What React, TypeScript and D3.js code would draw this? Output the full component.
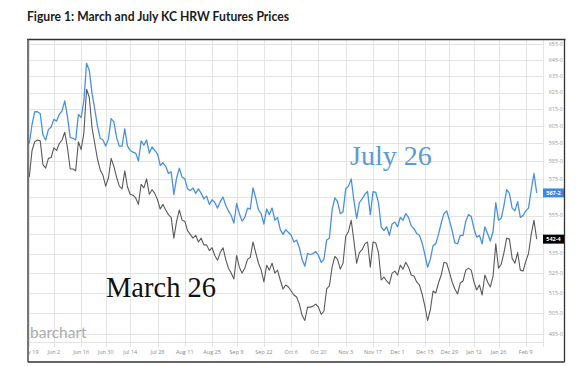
import React from 'react';
import * as d3 from 'd3';

// trading calendar (CME grain holidays inside the window)
const startDate = '2025-05-19';
const holidays = ['2025-05-26', '2025-06-19', '2025-07-04', '2025-09-01', '2025-11-27', '2025-12-25', '2026-01-01', '2026-01-19'];

const tickDates = [
  '2025-05-19', '2025-06-02', '2025-06-16', '2025-06-30', '2025-07-14', '2025-07-28', '2025-08-11',
  '2025-08-25', '2025-09-08', '2025-09-22', '2025-10-06', '2025-10-20', '2025-11-03', '2025-11-17',
  '2025-12-01', '2025-12-15', '2025-12-29', '2026-01-12', '2026-01-26', '2026-02-09',
];

const priceTicks = [495, 505, 515, 525, 535, 545, 555, 565, 575, 585, 595, 605, 615, 625, 635, 645, 655];

// KC HRW July 26 (blue)
const julyPrices = [
  595, 606, 613.5, 613.5, 612.5, 600, 597, 603, 604.5, 609,
  608, 612, 614, 620, 610.5, 598.5, 598, 597, 612, 610,
  620, 643, 638.5, 624.5, 615, 605, 598, 597, 593.5, 597.5,
  609.5, 607.5, 598.5, 593.5, 593.5, 603.5, 593.5, 591, 590, 589.5,
  585, 596.5, 594, 597, 589.5, 593, 591, 589, 582.5, 584,
  582, 578, 579, 566.5, 575.5, 581, 576, 575, 569.5, 568.5,
  570, 567, 569.5, 567, 564, 565.5, 561, 563.5, 562, 559,
  562.5, 565, 560.5, 557.5, 555, 551, 561.5, 556, 552, 554,
  559, 558.5, 570, 564.5, 558, 556, 550.5, 558.5, 555.5, 559,
  552.5, 554, 547.5, 545, 547.5, 546, 544.5, 541, 542, 538,
  532, 528.5, 535, 534.5, 535, 536, 534, 530.5, 532, 542,
  543, 558, 564.5, 562.5, 556, 557, 569.5, 571, 575, 563,
  553.5, 562, 564, 566.5, 568, 555.5, 568, 567.5, 562, 549,
  547, 549, 544.5, 550.5, 551.5, 549, 554, 552.5, 556, 554,
  549.5, 548, 545.5, 544.5, 540.5, 534.5, 528, 532, 539, 540,
  545, 551, 556, 557.5, 552.5, 547, 540.5, 540, 544.5, 544.5,
  552, 555.5, 554.5, 548, 543.5, 544.5, 540, 549, 545.5, 541.5,
  546.5, 562, 552.5, 553.5, 560.5, 569, 567, 559, 557.5, 562.5,
  554, 555, 557.5, 559, 569, 578, 567.25,
];

// KC HRW March 26 (gray)
const marchPrices = [
  576, 591, 596, 597, 596.5, 583, 581, 586.5, 587, 592.5,
  591, 595, 597, 601.5, 592.5, 580.5, 580.5, 579.5, 596, 591.5,
  601, 627, 622, 604, 595, 586, 580, 577, 571, 575.5,
  586.5, 582, 576, 571, 569.5, 579.5, 570.5, 566.5, 566, 564.5,
  561, 572, 570, 575, 566.5, 569, 567, 563.5, 558.5, 561,
  558, 555.5, 554, 543, 552, 558, 552.5, 552, 547, 545,
  543, 544.5, 541, 543, 539.5, 539.5, 536.5, 538, 534, 531.5,
  535.5, 538, 532, 527.5, 525, 522, 534, 528, 525, 527.5,
  532, 533, 541, 535.5, 530, 526.5, 520.5, 529, 526.5, 530,
  525, 526.5, 521.5, 517, 519, 518, 516, 514, 513, 509.5,
  504, 501.5, 508, 508, 508.5, 509.5, 508, 504.5, 506, 517,
  518.5, 528, 533.5, 532, 527, 530, 544, 546.5, 552.5, 541.5,
  530, 535.5, 537, 540, 541, 528, 541, 540.5, 535.5, 521.5,
  523, 521, 519.5, 525, 526, 524, 529, 527, 530.5, 528,
  524, 523.5, 520.5, 519, 514.5, 508.5, 501.5, 506.5, 516, 515,
  520, 524, 530.5, 530, 525.5, 520.5, 517, 514.5, 520, 521,
  526.5, 527.5, 526.5, 520.5, 516.5, 519, 514, 524, 520.5, 518,
  523.5, 540, 527.5, 529.5, 535.5, 543, 542.5, 532.5, 530, 535.5,
  526.5, 526, 531, 535, 545, 552.5, 542.5,
];

const W = 579;
const H = 366;
const frame = { left: 28, top: 39.5, right: 564.5, bottom: 362 };
const plot = { left: 28, right: 543, top: 40, bottom: 342 };

const parse = d3.utcParse('%Y-%m-%d');
const fmtISO = d3.utcFormat('%Y-%m-%d');
const fmtTick = d3.utcFormat('%b %-d');

function tradingDays(start: string, count: number): string[] {
  const out: string[] = [];
  let d = parse(start) as Date;
  while (out.length < count) {
    const wd = d.getUTCDay();
    const iso = fmtISO(d);
    if (wd !== 0 && wd !== 6 && !holidays.includes(iso)) out.push(iso);
    d = d3.utcDay.offset(d, 1);
  }
  return out;
}

// barchart style price: whole-eighths
const fmtPrice = (v: number) => {
  const whole = Math.floor(v);
  const eighths = Math.round((v - whole) * 8);
  return `${whole}-${eighths}`;
};

export default function App() {
  const days = tradingDays(startDate, julyPrices.length);

  const x = d3.scaleLinear().domain([0, days.length - 1]).range([29.3, 536.7]);
  const y = d3.scaleLog().domain([495, 655]).range([334, 44]);

  const line = d3
    .line<number>()
    .x((_, i) => x(i))
    .y((d) => y(d));

  const ticks = tickDates.map((t) => ({ label: fmtTick(parse(t) as Date), i: days.indexOf(t) }));

  const lastJuly = julyPrices[julyPrices.length - 1];
  const lastMarch = marchPrices[marchPrices.length - 1];

  // the value tags sit on top of the price labels, so those labels are hidden
  const tagYs = [y(lastJuly), y(lastMarch)];
  const visibleTicks = priceTicks.filter((p) => tagYs.every((ty) => Math.abs(y(p) - ty) > 8));

  const axisFont = "'Open Sans', 'DejaVu Sans', sans-serif";

  return (
    <svg width={W} height={H} style={{ position: 'absolute', left: 0, top: 0, background: '#fff' }}>
      <defs>
        <clipPath id="plotClip">
          <rect x={plot.left} y={plot.top} width={plot.right - plot.left} height={plot.bottom - plot.top} />
        </clipPath>
        <clipPath id="axisClip">
          <rect x={plot.left + 1} y={plot.bottom} width={plot.right - plot.left} height={frame.bottom - plot.bottom} />
        </clipPath>
      </defs>

      <text
        x={27}
        y={21}
        fontFamily="Lato, 'Liberation Sans', sans-serif"
        fontWeight="bold"
        fontSize={12.5}
        fill="#1b1b1b"
        textLength={262}
        lengthAdjust="spacingAndGlyphs"
      >
        Figure 1: March and July KC HRW Futures Prices
      </text>

      {/* grid */}
      <g stroke="#e4e4e4" strokeWidth={1}>
        {priceTicks.map((p) => (
          <line key={p} x1={plot.left} x2={plot.right} y1={Math.round(y(p)) + 0.5} y2={Math.round(y(p)) + 0.5} />
        ))}
        {ticks.map((t) => (
          <line key={t.label} x1={Math.round(x(t.i)) + 0.5} x2={Math.round(x(t.i)) + 0.5} y1={plot.top} y2={plot.bottom + 5} />
        ))}
        <line x1={plot.left} x2={plot.right} y1={plot.bottom + 0.5} y2={plot.bottom + 0.5} />
        <line x1={plot.right + 0.5} x2={plot.right + 0.5} y1={plot.top} y2={plot.bottom + 5} />
      </g>

      <text x={30} y={338} fontFamily="Lato, 'Open Sans', sans-serif" fontSize={15.5} fill="#ababab">
        barchart
      </text>

      <g clipPath="url(#plotClip)" fill="none" strokeLinejoin="round">
        <path d={line(marchPrices) ?? ''} stroke="#5a5a5a" strokeWidth={1.1} />
        <path d={line(julyPrices) ?? ''} stroke="#4a90e2" strokeWidth={1.3} />
      </g>

      {/* price axis */}
      <g fontFamily={axisFont} fontSize={5.5} fill="#9a9a9a" textAnchor="end">
        {visibleTicks.map((p) => (
          <text key={p} x={563} y={y(p)} dy="0.35em">
            {`${p}-0`}
          </text>
        ))}
      </g>

      {/* last value tags */}
      <g fontFamily={axisFont} fontSize={5.5} fontWeight="bold" fill="#fff" textAnchor="middle">
        <rect x={plot.right} y={y(lastJuly) - 4.5} width={21} height={9} fill="#3f8ae0" />
        <text x={plot.right + 10.5} y={y(lastJuly)} dy="0.35em">
          {fmtPrice(lastJuly)}
        </text>
        <rect x={plot.right} y={y(lastMarch) - 4.5} width={21} height={9} fill="#000" />
        <text x={plot.right + 10.5} y={y(lastMarch)} dy="0.35em">
          {fmtPrice(lastMarch)}
        </text>
      </g>

      {/* date axis */}
      <g clipPath="url(#axisClip)" fontFamily={axisFont} fontSize={5.5} fill="#8a8a8a" textAnchor="middle">
        {ticks.map((t) => (
          <text key={t.label} x={x(t.i)} y={354}>
            {t.label}
          </text>
        ))}
      </g>

      <text x={350} y={165} fontFamily="'Liberation Serif', 'Times New Roman', serif" fontSize={28} fill="#5b9bd5">
        July 26
      </text>
      <text x={106} y={297} fontFamily="'Liberation Serif', 'Times New Roman', serif" fontSize={28.5} fill="#111">
        March 26
      </text>

      {/* frame */}
      <g stroke="#333" fill="none">
        <line x1={frame.left - 1} x2={frame.right + 1} y1={frame.top} y2={frame.top} strokeWidth={1.3} />
        <line x1={frame.left} x2={frame.left} y1={frame.top} y2={frame.bottom} strokeWidth={1.6} stroke="#555" />
        <line x1={frame.right} x2={frame.right} y1={frame.top} y2={frame.bottom} strokeWidth={1.3} />
        <line x1={frame.left} x2={frame.right} y1={frame.bottom} y2={frame.bottom} strokeWidth={1.3} />
      </g>
    </svg>
  );
}
